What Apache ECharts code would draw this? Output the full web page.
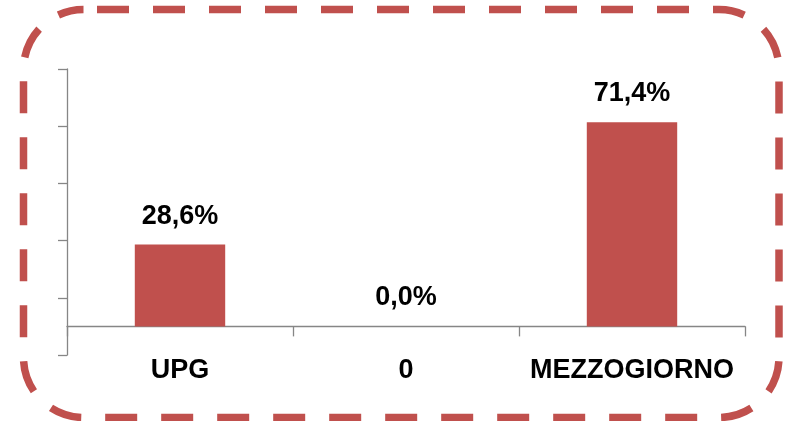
<!DOCTYPE html>
<html>
<head>
<meta charset="utf-8">
<script src="https://cdn.jsdelivr.net/npm/echarts@6/dist/echarts.min.js"></script>
<style>
  html, body { margin: 0; padding: 0; background: #ffffff; }
  #chart { width: 788px; height: 421px; }
</style>
</head>
<body>
<div id="chart"></div>
<script>
// Share by area (percent)
const categories = ['UPG', '0', 'MEZZOGIORNO'];
const shares = [28.6, 0.0, 71.4];

const RED = '#C0504D';
const AXIS_GREY = '#868686';
const FONT = '"Liberation Sans", Arial, sans-serif';

const chart = echarts.init(document.getElementById('chart'), null, { renderer: 'canvas' });

chart.setOption({
  animation: false,
  backgroundColor: '#ffffff',
  grid: { left: 67, right: 43, top: 69, bottom: 66, containLabel: false },
  xAxis: {
    type: 'category',
    data: categories,
    axisLine: { show: true, onZero: true, lineStyle: { color: AXIS_GREY, width: 1.3 } },
    axisTick: { show: true, inside: false, interval: 0, length: 10, lineStyle: { color: AXIS_GREY, width: 1.3 } },
    axisLabel: {
      show: true,
      interval: 0,
      hideOverlap: false,
      margin: 2,
      color: '#000000',
      fontFamily: FONT,
      fontWeight: 'bold',
      fontSize: 27
    },
    splitLine: { show: false }
  },
  yAxis: {
    type: 'value',
    min: -10,
    max: 90,
    interval: 20,
    axisLine: { show: true, lineStyle: { color: AXIS_GREY, width: 1.3 } },
    axisTick: { show: true, inside: false, length: 9, lineStyle: { color: AXIS_GREY, width: 1.3 } },
    axisLabel: { show: false },
    splitLine: { show: false }
  },
  series: [{
    type: 'bar',
    data: shares,
    barWidth: '40%',
    itemStyle: { color: RED },
    label: {
      show: true,
      position: 'top',
      distance: 15,
      color: '#000000',
      fontFamily: FONT,
      fontWeight: 'bold',
      fontSize: 27,
      formatter: p => p.value.toFixed(1).replace('.', ',') + '%'
    }
  }],
  graphic: [{
    type: 'rect',
    silent: true,
    z: 100,
    shape: { x: 23.5, y: 9.5, width: 755.5, height: 408, r: 60 },
    style: {
      fill: 'none',
      stroke: RED,
      lineWidth: 7.5,
      lineDash: [32, 24],
      lineDashOffset: 42.5
    }
  }]
});
</script>
</body>
</html>
